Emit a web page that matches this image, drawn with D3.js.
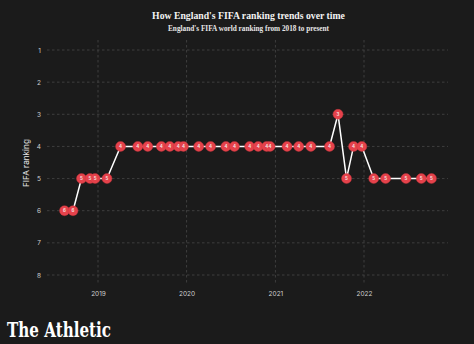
<!DOCTYPE html>
<html>
<head>
<meta charset="utf-8">
<script src="https://cdn.jsdelivr.net/npm/d3@7"></script>
<style>
  html, body { margin: 0; padding: 0; background: #1b1b1b; }
  svg { display: block; }
</style>
</head>
<body>
<script>
// England's FIFA world ranking at each release date
const releaseDates = [
  "2018-08-16", "2018-09-20", "2018-10-25", "2018-11-29", "2018-12-20",
  "2019-02-07", "2019-04-04", "2019-06-14", "2019-07-25", "2019-09-19",
  "2019-10-24", "2019-11-28", "2019-12-19", "2020-02-20", "2020-04-09",
  "2020-06-11", "2020-07-16", "2020-09-17", "2020-10-22", "2020-11-26",
  "2020-12-10", "2021-02-18", "2021-04-07", "2021-05-27", "2021-08-12",
  "2021-09-16", "2021-10-21", "2021-11-19", "2021-12-23", "2022-02-10",
  "2022-03-31", "2022-06-23", "2022-08-25", "2022-10-06"
];
const rankings = [
  6, 6, 5, 5, 5,
  5, 4, 4, 4, 4,
  4, 4, 4, 4, 4,
  4, 4, 4, 4, 4,
  4, 4, 4, 4, 4,
  3, 5, 4, 4, 5,
  5, 5, 5, 5
];
const yTicks = [1, 2, 3, 4, 5, 6, 7, 8];
const xTickYears = ["2019", "2020", "2021", "2022"];

const W = 474, H = 344;
const plotLeft = 47, plotRight = 448, plotTop = 50, plotBottom = 275;

const parse = d3.timeParse("%Y-%m-%d");
const points = releaseDates.map((d, i) => ({ date: parse(d), rank: rankings[i] }));

const x = d3.scaleTime()
  .domain([new Date(2019, 0, 1), new Date(2022, 0, 1)])
  .range([98, 364]);
const y = d3.scaleLinear().domain([1, 8]).range([plotTop, plotBottom]);

const svg = d3.select("body").append("svg")
  .attr("width", W).attr("height", H);

svg.append("rect").attr("width", W).attr("height", H).attr("fill", "#1b1b1b");

// Scale a text node's font so it spans the given width
function fitWidth(sel, width) {
  const node = sel.node();
  const size = parseFloat(sel.attr("font-size"));
  const len = node.getComputedTextLength();
  if (len > 0) sel.attr("font-size", size * width / len);
}

// Title and subtitle
const title = svg.append("text")
  .attr("x", 248.5).attr("y", 19.3)
  .attr("text-anchor", "middle")
  .attr("font-family", "'Liberation Serif', serif")
  .attr("font-weight", "bold")
  .attr("font-size", 10)
  .attr("fill", "#f2f2f2")
  .text("How England's FIFA ranking trends over time");
fitWidth(title, 193);

const subtitle = svg.append("text")
  .attr("x", 248.5).attr("y", 31.2)
  .attr("text-anchor", "middle")
  .attr("font-family", "'Liberation Serif', serif")
  .attr("font-weight", "bold")
  .attr("font-size", 7)
  .attr("fill", "#e6e6e6")
  .text("England's FIFA world ranking from 2018 to present");
fitWidth(subtitle, 161);

// Gridlines
const grid = svg.append("g")
  .attr("stroke", "#474747")
  .attr("stroke-width", 0.8)
  .attr("stroke-dasharray", "2.5,2.5");

grid.selectAll("line.h").data(yTicks).join("line")
  .attr("class", "h")
  .attr("x1", plotLeft).attr("x2", plotRight)
  .attr("y1", d => y(d)).attr("y2", d => y(d));

grid.selectAll("line.v").data(xTickYears).join("line")
  .attr("class", "v")
  .attr("x1", d => x(new Date(+d, 0, 1))).attr("x2", d => x(new Date(+d, 0, 1)))
  .attr("y1", 40).attr("y2", 285);

// Y axis
const yAxis = svg.append("g")
  .attr("transform", `translate(${plotLeft - 3},0)`)
  .call(d3.axisLeft(y).tickValues(yTicks).tickSize(0).tickFormat(d3.format("d")));
yAxis.select(".domain").remove();
yAxis.selectAll("text")
  .attr("font-family", "Inter, 'Noto Sans', sans-serif")
  .attr("font-size", 6.5)
  .attr("fill", "#cfcfcf");

// X axis
const xAxis = svg.append("g")
  .attr("transform", `translate(0,${288})`)
  .call(d3.axisBottom(x)
    .tickValues(xTickYears.map(s => new Date(+s, 0, 1)))
    .tickSize(0)
    .tickFormat(d3.timeFormat("%Y")));
xAxis.select(".domain").remove();
xAxis.selectAll("text")
  .attr("font-family", "Inter, 'Noto Sans', sans-serif")
  .attr("font-size", 6.5)
  .attr("fill", "#cfcfcf");

// Y axis title
svg.append("text")
  .attr("transform", `translate(29,163) rotate(-90)`)
  .attr("text-anchor", "middle")
  .attr("font-family", "Inter, 'Noto Sans', sans-serif")
  .attr("font-size", 8.2)
  .attr("fill", "#e6e6e6")
  .text("FIFA ranking");

// Ranking line
const line = d3.line().x(d => x(d.date)).y(d => y(d.rank));
svg.append("path")
  .datum(points)
  .attr("d", line)
  .attr("fill", "none")
  .attr("stroke", "#ffffff")
  .attr("stroke-width", 1.5);

// Markers, then their value labels on top
svg.append("g").selectAll("circle").data(points).join("circle")
  .attr("cx", d => x(d.date))
  .attr("cy", d => y(d.rank))
  .attr("r", 5)
  .attr("fill", "#e5424b")
  .attr("stroke", "#c9343d")
  .attr("stroke-width", 0.4);

svg.append("g").selectAll("text").data(points).join("text")
  .attr("x", d => x(d.date))
  .attr("y", d => y(d.rank) + 1.6)
  .attr("text-anchor", "middle")
  .attr("font-family", "Inter, 'Noto Sans', sans-serif")
  .attr("font-weight", 600)
  .attr("font-size", 4.5)
  .attr("fill", "#f4e6e6")
  .text(d => d.rank);

// Brand mark
svg.append("text")
  .attr("x", 7).attr("y", 337)
  .attr("font-family", "'DejaVu Serif', serif")
  .attr("font-weight", "bold")
  .attr("font-size", 20)
  .attr("textLength", 104)
  .attr("lengthAdjust", "spacingAndGlyphs")
  .attr("fill", "#ffffff")
  .text("The Athletic");
</script>
</body>
</html>
